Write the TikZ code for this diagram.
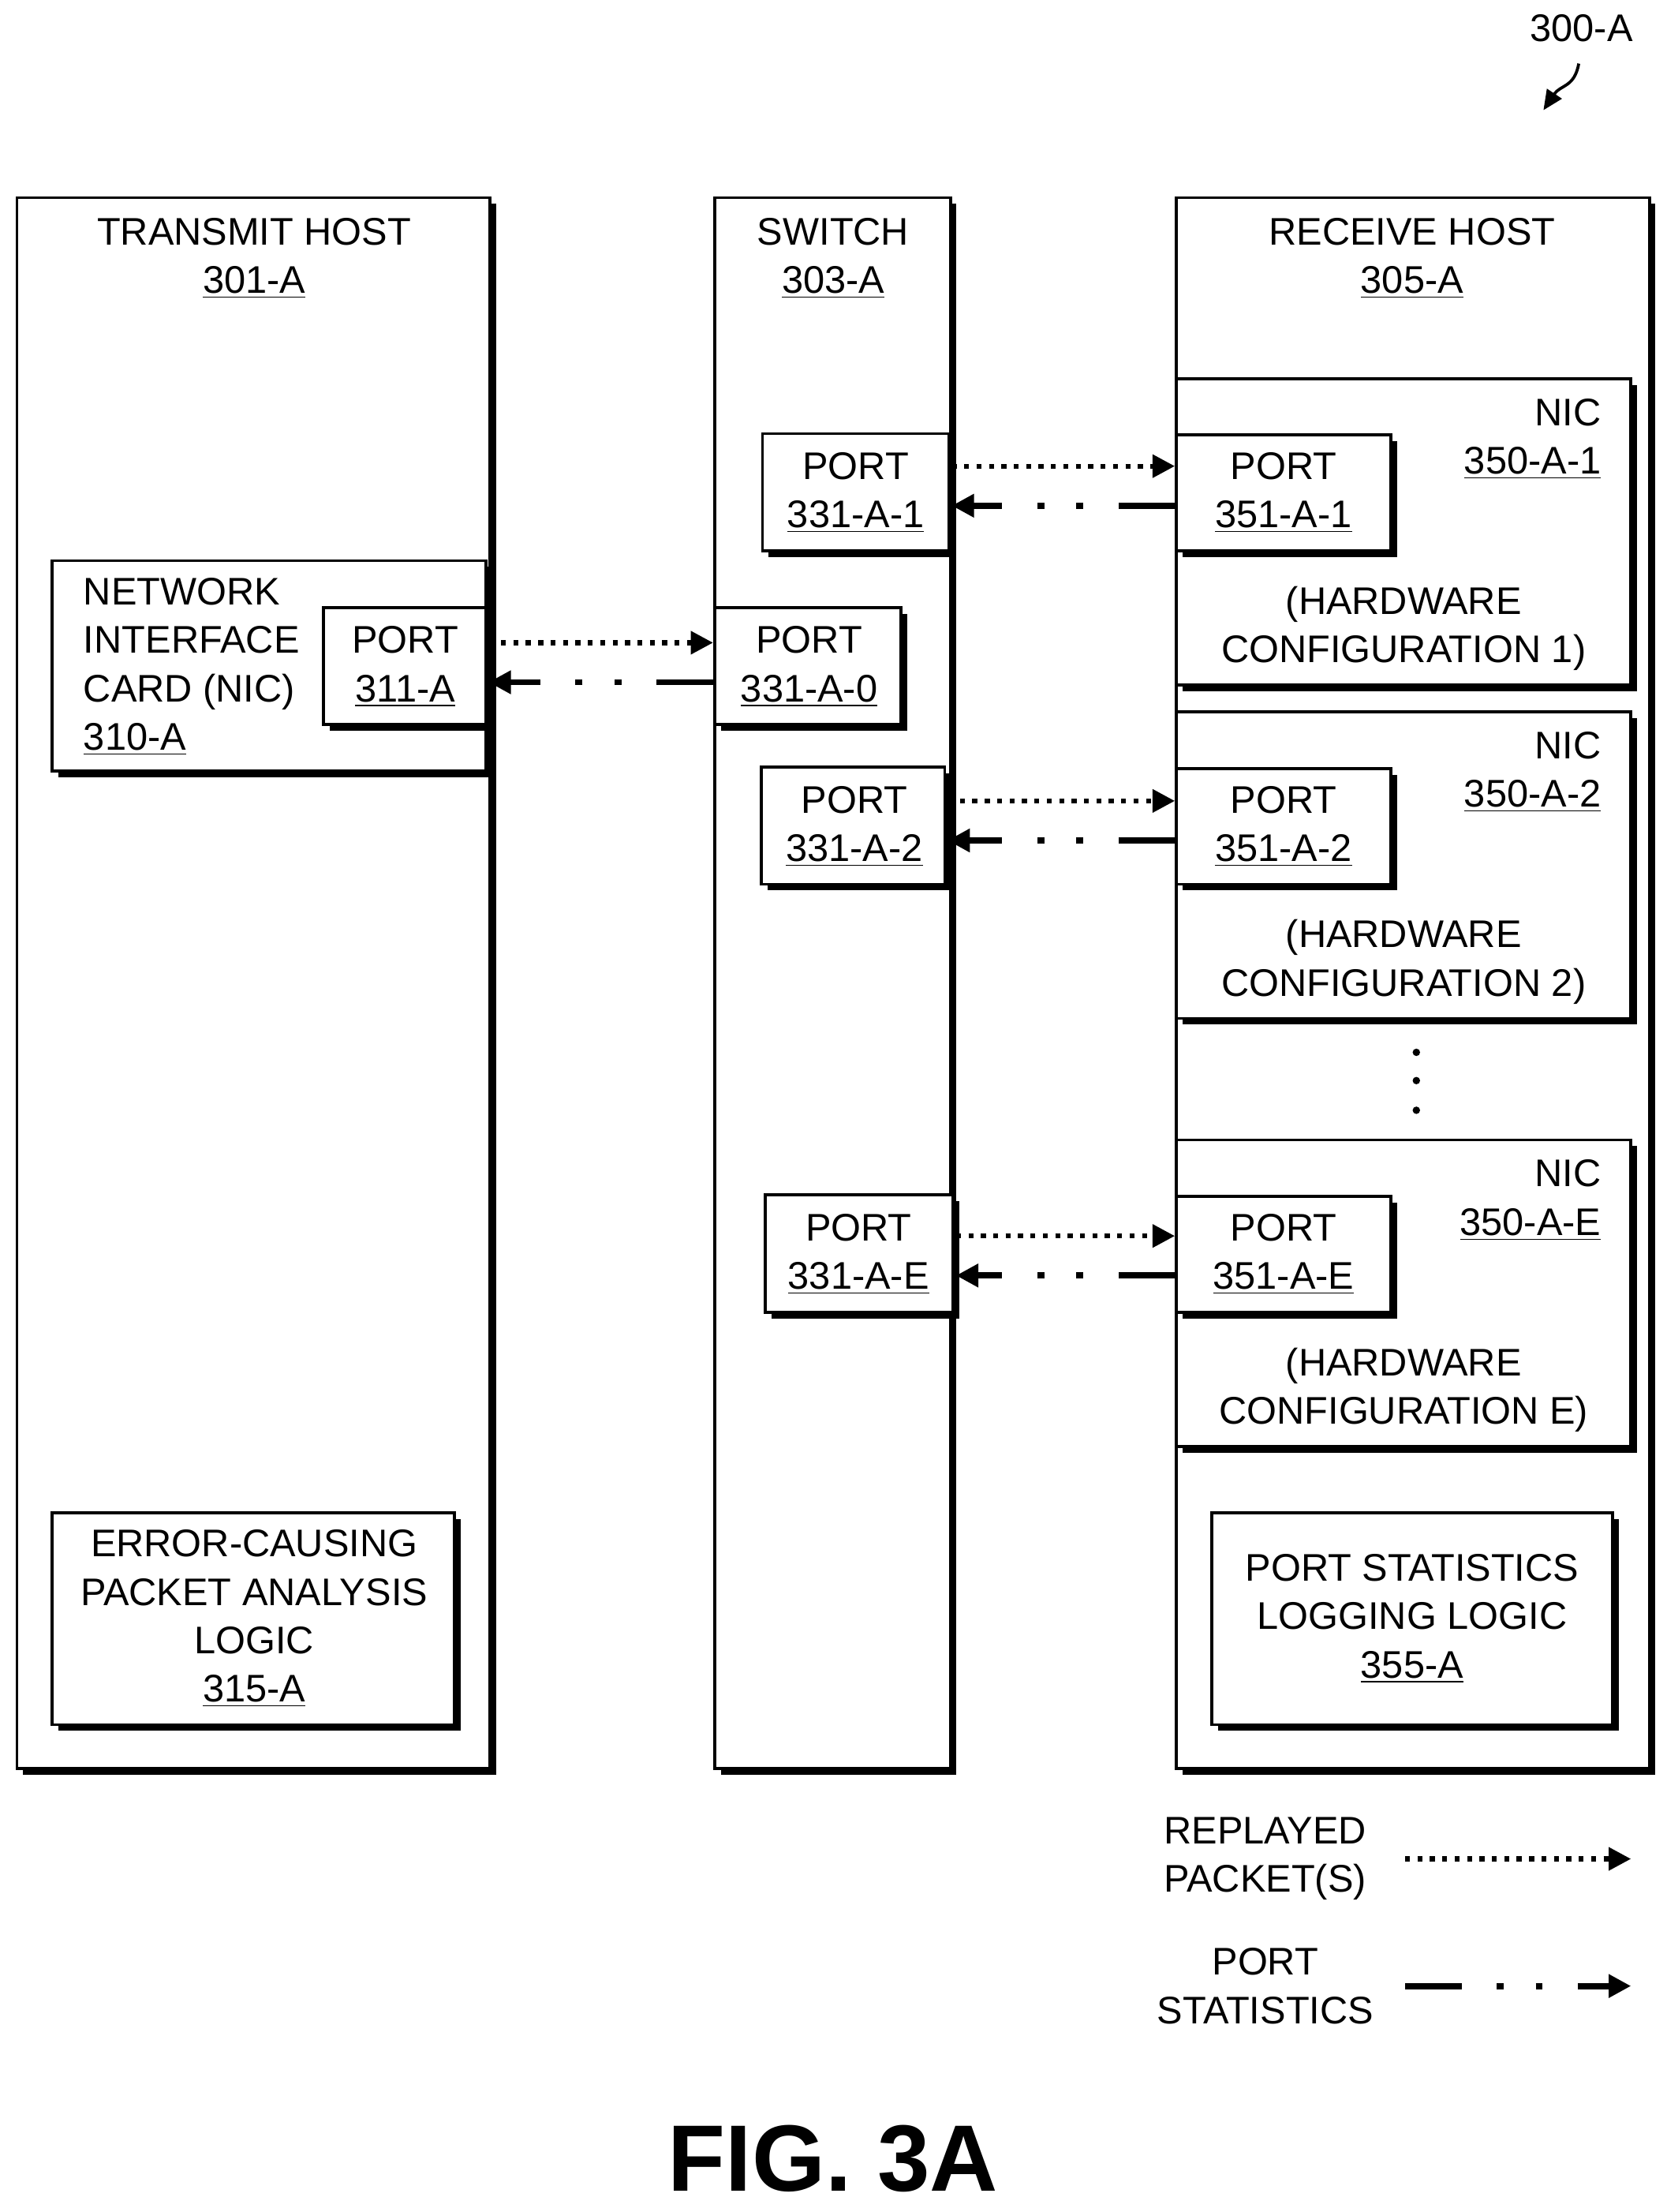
\documentclass[tikz,border=0pt]{standalone}
\usepackage{fontspec}
\setmainfont{Liberation Sans}
\usetikzlibrary{arrows.meta,shadows}
\tikzset{
  box/.style={draw, line width=1.2pt, fill=white, drop shadow={shadow xshift=2.5pt, shadow yshift=-2.5pt, opacity=1, fill=black}},
  lbl/.style={align=center, font=\fontsize{15.5}{19.5}\selectfont},
  replay/.style={draw, line width=2pt, dash pattern=on 2pt off 3pt, -{Triangle[length=9pt,width=9pt]}},
  stats/.style={draw, line width=2.5pt, dash pattern=on 0.8cm off 0.5cm on 0.1cm off 0.45cm on 0.1cm off 0.5cm on 2cm, -{Triangle[length=9pt,width=9pt]}},
}
\begin{document}
\begin{tikzpicture}[x=0.02cm, y=-0.02cm]
\useasboundingbox (0,0) rectangle (1180,1566);
% hosts and switch
\draw[box] (12,140) rectangle (347,1252);
\draw[box] (506,140) rectangle (673,1252);
\draw[box] (833,140) rectangle (1168,1252);
\node[lbl] (txhost) at (180,183) {TRANSMIT HOST\\\underline{301-A}};
\node[lbl] (switch) at (590,183) {SWITCH\\\underline{303-A}};
\node[lbl] (rxhost) at (1000,183) {RECEIVE HOST\\\underline{305-A}};
% transmit side
\draw[box] (37,397) rectangle (344,546);
\node[lbl, align=left, anchor=west] (nic) at (53,472) {NETWORK\\INTERFACE\\CARD (NIC)\\\underline{310-A}};
\draw[box] (229,430) rectangle (344,513);
\node[lbl] (p311) at (287,472) {PORT\\\underline{311-A}};
\draw[box] (37,1071) rectangle (322,1221);
\node[lbl] (ecpa) at (180,1146) {ERROR-CAUSING\\PACKET ANALYSIS\\LOGIC\\\underline{315-A}};
% switch ports
\draw[box] (506,430) rectangle (638,513);
\node[lbl] (p0) at (573,472) {PORT\\\underline{331-A-0}};
\draw[box] (540,307) rectangle (672,390);
\node[lbl] (p1) at (606,349) {PORT\\\underline{331-A-1}};
\draw[box] (539,543) rectangle (669,626);
\node[lbl] (p2) at (605,585) {PORT\\\underline{331-A-2}};
\draw[box] (542,846) rectangle (675,929);
\node[lbl] (pE) at (608,888) {PORT\\\underline{331-A-E}};
% receive NICs
\foreach \i/\t/\hw in {1/268/1, 2/504/2, E/807/E} {
  \draw[box] (833,\t) rectangle (1155,\t+217);
  \node[lbl, align=right, anchor=north east] (nic\i) at (1140,\t+8) {NIC\\\underline{350-A-\i}};
  \node[lbl] (hw\i) at (994,\t+177) {(HARDWARE\\CONFIGURATION \hw)};
  \draw[box] (833,\t+40) rectangle (985,\t+122);
  \node[lbl] (r\i) at (909,\t+81) {PORT\\\underline{351-A-\i}};
}
\foreach \yy in {745,765,786} \fill (1003,\yy) circle (1.5pt);
\draw[box] (858,1071) rectangle (1142,1221);
\node[lbl] (psll) at (1000,1146) {PORT STATISTICS\\LOGGING LOGIC\\\underline{355-A}};
% connectors
\path[replay] (346,455) -- (505,455);
\path[stats] (505,483) -- (346,483);
\path[replay] (674,330) -- (832,330);
\path[stats] (832,358) -- (674,358);
\path[replay] (671,567) -- (832,567);
\path[stats] (832,595) -- (671,595);
\path[replay] (677,875) -- (832,875);
\path[stats] (832,903) -- (677,903);
% legend
\node[lbl] (leg1) at (896,1316) {REPLAYED\\PACKET(S)};
\node[lbl] (leg2) at (896,1406) {PORT\\STATISTICS};
\path[replay] (995,1316) -- (1155,1316);
\path[stats] (995,1406) -- (1155,1406);
% figure label
\node[font=\fontsize{38}{42}\selectfont\bfseries] (fig) at (590,1528) {FIG. 3A};
\node[lbl] (ref) at (1120,20) {300-A};
\draw[line width=1.2pt, -{Triangle[length=8pt,width=7pt]}] (1118,45) .. controls (1115,62) and (1105,60) .. (1093,78);
\end{tikzpicture}
\end{document}
